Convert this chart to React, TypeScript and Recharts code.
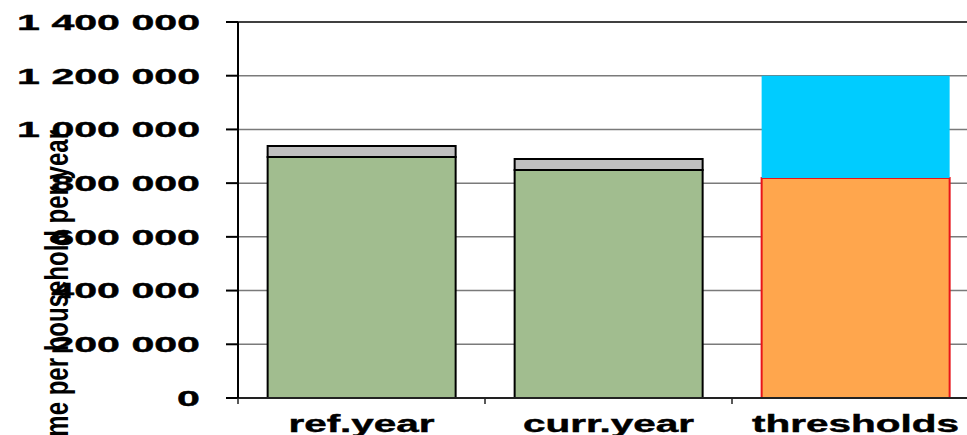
import React from 'react';
import { BarChart, Bar, XAxis, YAxis, CartesianGrid, ReferenceLine, Cell, Label } from 'recharts';

const categories = ['ref.year', 'curr.year', 'thresholds'];
const baseValues = [897000, 849000, 819000];
const topValues = [41000, 41000, 381000];
const yTicks = [0, 200000, 400000, 600000, 800000, 1000000, 1200000, 1400000];

const data = categories.map((name, i) => ({ name, base: baseValues[i], top: topValues[i] }));

const baseFill = ['#A1BD8F', '#A1BD8F', '#FFA64D'];
const baseStroke = ['#000000', '#000000', '#E8141A'];
const topFill = ['#C0C0C0', '#C0C0C0', '#00CCFF'];
const topStroke = ['#000000', '#000000', 'none'];

const FONT = '"Liberation Sans", Arial, sans-serif';

const fmt = (v: number) => String(v).replace(/\B(?=(\d{3})+(?!\d))/g, ' ');

function YTick(props: any) {
  const { x, y, payload } = props;
  return (
    <text
      transform={`translate(${x},${y}) scale(1.87,1)`}
      textAnchor="end"
      dy="0.355em"
      fontFamily={FONT}
      fontWeight="bold"
      fontSize={22}
      fill="#000"
      stroke="#000"
      strokeWidth={0.4}
    >
      {fmt(payload.value)}
    </text>
  );
}

function XTick(props: any) {
  const { x, y, payload } = props;
  const half = payload.offset ?? 0;
  return (
    <g>
      <line x1={x - half} x2={x - half} y1={y - 8} y2={y - 2} stroke="#222" strokeWidth={1.5} />
      <text
        transform={`translate(${x},${y + 26}) scale(1.76,1)`}
        textAnchor="middle"
        fontFamily={FONT}
        fontWeight="bold"
        fontSize={23}
        fill="#000"
        stroke="#000"
        strokeWidth={0.4}
      >
        {payload.value}
      </text>
    </g>
  );
}

function AxisTitle(props: any) {
  const vb = props.viewBox || { x: 0, y: 22 };
  return (
    <text
      transform={`translate(${vb.x + 68},${vb.y + 286}) scale(1.4,1) rotate(-90)`}
      textAnchor="middle"
      fontFamily={FONT}
      fontWeight="bold"
      fontSize={24}
      fill="#000"
    >
      Income per household per year
    </text>
  );
}

export default function App() {
  return (
    <div style={{ position: 'absolute', left: 0, top: 0, width: 967, height: 435, overflow: 'hidden', background: '#fff' }}>
      <BarChart
        width={990}
        height={435}
        data={data}
        margin={{ top: 22, right: 11, bottom: 7, left: 0 }}
        barCategoryGap="12%"
      >
        <CartesianGrid vertical={false} stroke="#7a7a7a" strokeWidth={1.5} />
        <ReferenceLine y={1400000} stroke="#404040" strokeWidth={2} />
        <XAxis
          dataKey="name"
          stroke="#222"
          strokeWidth={2}
          tickLine={false}
          tickSize={6}
          tickMargin={2}
          height={30}
          tick={<XTick />}
          interval={0}
        />
        <YAxis
          domain={[0, 1400000]}
          ticks={yTicks}
          width={238}
          stroke="#000"
          strokeWidth={2}
          tickSize={12}
          tickMargin={26}
          tick={<YTick />}
          interval={0}
        >
          <Label content={<AxisTitle />} />
        </YAxis>
        <Bar dataKey="base" stackId="a" isAnimationActive={false} strokeWidth={2}>
          {data.map((d, i) => (
            <Cell key={d.name} fill={baseFill[i]} stroke={baseStroke[i]} />
          ))}
        </Bar>
        <Bar dataKey="top" stackId="a" isAnimationActive={false} strokeWidth={2}>
          {data.map((d, i) => (
            <Cell key={d.name} fill={topFill[i]} stroke={topStroke[i]} />
          ))}
        </Bar>
      </BarChart>
    </div>
  );
}
